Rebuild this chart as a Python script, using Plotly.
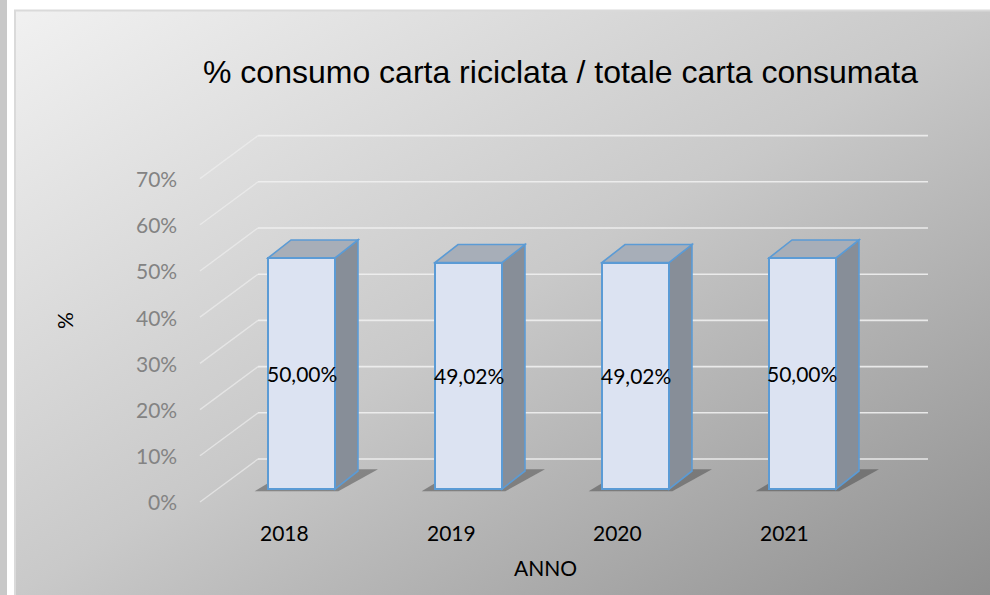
import base64
import plotly.graph_objects as go

# ---------------- data ----------------
categories = ["2018", "2019", "2020", "2021"]
values = [0.5000, 0.4902, 0.4902, 0.5000]
tick_values = [0.0, 0.1, 0.2, 0.3, 0.4, 0.5, 0.6, 0.7]
tick_labels = ["0%", "10%", "20%", "30%", "40%", "50%", "60%", "70%"]
title_text = "% consumo carta riciclata / totale carta consumata"
x_title = "ANNO"
y_title = "%"

# ---------------- pseudo-3D geometry (data units) ----------------
BAR_W = 0.401                 # front face width (category units)
BAR_DX, BAR_DV = 0.1377, 0.039    # bar depth offset
BACK_DX, BACK_DV = 0.2425, 0.0649  # back wall offset from bar front plane
FRONT_DX, FRONT_DV = -0.1048, -0.0281  # front plane offset from bar front plane
WALL_L, WALL_R = -0.2605, 3.7515   # back wall horizontal extent

W, H = 990, 595
XR = [-1.8054, 4.1228]
YR = [-0.2294, 1.0584]

FRONT_FILL = "#dce3f2"
TOP_FILL = "#a7aeb8"
SIDE_FILL = "#878e98"
EDGE = "#5b9bd5"
GRID = "rgba(240,240,240,0.9)"

fig = go.Figure()

shapes = []

# background: left strip + gradient chart area
svg = ('<svg xmlns="http://www.w3.org/2000/svg" width="975" height="585" viewBox="0 0 975 585" '
       'preserveAspectRatio="none"><defs><linearGradient id="g" x1="0" y1="0" x2="1" y2="1">'
       '<stop offset="0" stop-color="#f1f1f1"/><stop offset="0.5" stop-color="#c9c9c9"/>'
       '<stop offset="1" stop-color="#8f8f8f"/></linearGradient></defs>'
       '<rect width="975" height="585" fill="url(#g)"/></svg>')
src = "data:image/svg+xml;base64," + base64.b64encode(svg.encode()).decode()
images = [dict(source=src, xref="paper", yref="paper", x=15 / W, y=1 - 10 / H,
               sizex=975 / W, sizey=585 / H, xanchor="left", yanchor="top",
               sizing="stretch", layer="below")]

shapes.append(dict(type="rect", xref="paper", yref="paper", x0=0, x1=7 / W, y0=0, y1=1,
                   fillcolor="#c8c8c8", line=dict(width=0), layer="below"))
shapes.append(dict(type="rect", xref="paper", yref="paper", x0=15 / W, x1=1.01, y0=-0.01,
                   y1=1 - 10.5 / H, fillcolor="rgba(0,0,0,0)",
                   line=dict(color="#dadada", width=2), layer="below"))

# gridlines: back wall horizontals + diagonal to front plane
for t in tick_values:
    yb = t + BACK_DV
    shapes.append(dict(type="line", xref="x", yref="y", x0=WALL_L, x1=WALL_R, y0=yb, y1=yb,
                       line=dict(color=GRID, width=1.6), layer="below"))
    shapes.append(dict(type="line", xref="x", yref="y", x0=WALL_L, y0=yb,
                       x1=WALL_L + (FRONT_DX - BACK_DX), y1=yb + (FRONT_DV - BACK_DV),
                       line=dict(color="rgba(240,240,240,0.65)", width=1.4), layer="below"))


def path(pts):
    return "M " + " L ".join(f"{x:.4f},{y:.4f}" for x, y in pts) + " Z"


for i, v in enumerate(values):
    x0, x1 = i - BAR_W / 2, i + BAR_W / 2
    # shadow footprint
    shapes.append(dict(type="path", xref="x", yref="y", layer="below",
                       path=path([(x0 - 0.08, -0.005), (x1 + 0.02, -0.005),
                                  (x1 + BAR_DX + 0.12, BAR_DV + 0.004),
                                  (x0 + BAR_DX, BAR_DV + 0.004)]),
                       fillcolor="rgba(60,60,60,0.45)", line=dict(width=0)))
    # side face
    shapes.append(dict(type="path", xref="x", yref="y", layer="below",
                       path=path([(x1, 0), (x1, v), (x1 + BAR_DX, v + BAR_DV), (x1 + BAR_DX, BAR_DV)]),
                       fillcolor=SIDE_FILL, line=dict(color=EDGE, width=1.6)))
    # top face
    shapes.append(dict(type="path", xref="x", yref="y", layer="below",
                       path=path([(x0, v), (x1, v), (x1 + BAR_DX, v + BAR_DV), (x0 + BAR_DX, v + BAR_DV)]),
                       fillcolor=TOP_FILL, line=dict(color=EDGE, width=1.6)))

# front faces as real bars
fig.add_trace(go.Bar(x=list(range(len(categories))), y=values, width=BAR_W,
                     marker=dict(color=FRONT_FILL, line=dict(color=EDGE, width=2)),
                     hoverinfo="skip", showlegend=False))

annotations = []
LABEL_FONT = "Lato"
for i, v in enumerate(values):
    annotations.append(dict(x=i, y=v / 2, xref="x", yref="y", showarrow=False,
                            xanchor="center", yanchor="middle",
                            text=f"{v * 100:.2f}%".replace(".", ","),
                            font=dict(family=LABEL_FONT, size=21, color="#000000")))
    annotations.append(dict(x=i + FRONT_DX, y=FRONT_DV, xref="x", yref="y", showarrow=False,
                            xanchor="center", yanchor="middle",
                            yshift=-31, text=categories[i],
                            font=dict(family=LABEL_FONT, size=21, color="#000000")))

for t, lab in zip(tick_values, tick_labels):
    annotations.append(dict(x=WALL_L + (FRONT_DX - BACK_DX), y=t + BACK_DV + (FRONT_DV - BACK_DV),
                            xref="x", yref="y", showarrow=False, xanchor="right", yanchor="middle",
                            xshift=-21, text=lab,
                            font=dict(family=LABEL_FONT, size=21, color="#838383")))

annotations.append(dict(x=545 / W, y=1 - 567 / H, xref="paper", yref="paper", showarrow=False,
                        xanchor="center", yanchor="middle",
                        text=x_title, font=dict(family=LABEL_FONT, size=21, color="#000000")))
annotations.append(dict(x=64 / W, y=1 - 321 / H, xref="paper", yref="paper", showarrow=False,
                        xanchor="center", yanchor="middle",
                        text=y_title, textangle=-90,
                        font=dict(family=LABEL_FONT, size=21, color="#000000")))
annotations.append(dict(x=560 / W, y=1 - 72 / H, xref="paper", yref="paper", showarrow=False,
                        xanchor="center", yanchor="middle",
                        text=title_text,
                        font=dict(family="Liberation Sans", size=32, color="#000000")))

fig.update_layout(
    width=W, height=H, margin=dict(l=0, r=0, t=0, b=0, pad=0),
    paper_bgcolor="#ffffff", plot_bgcolor="rgba(0,0,0,0)",
    xaxis=dict(range=XR, visible=False, fixedrange=True),
    yaxis=dict(range=YR, visible=False, fixedrange=True),
    shapes=shapes, images=images, annotations=annotations,
    showlegend=False, bargap=0,
)

fig.write_html("out.html", config={"displayModeBar": False},
               post_script="document.body.style.margin='0';document.body.style.overflow='hidden';")
